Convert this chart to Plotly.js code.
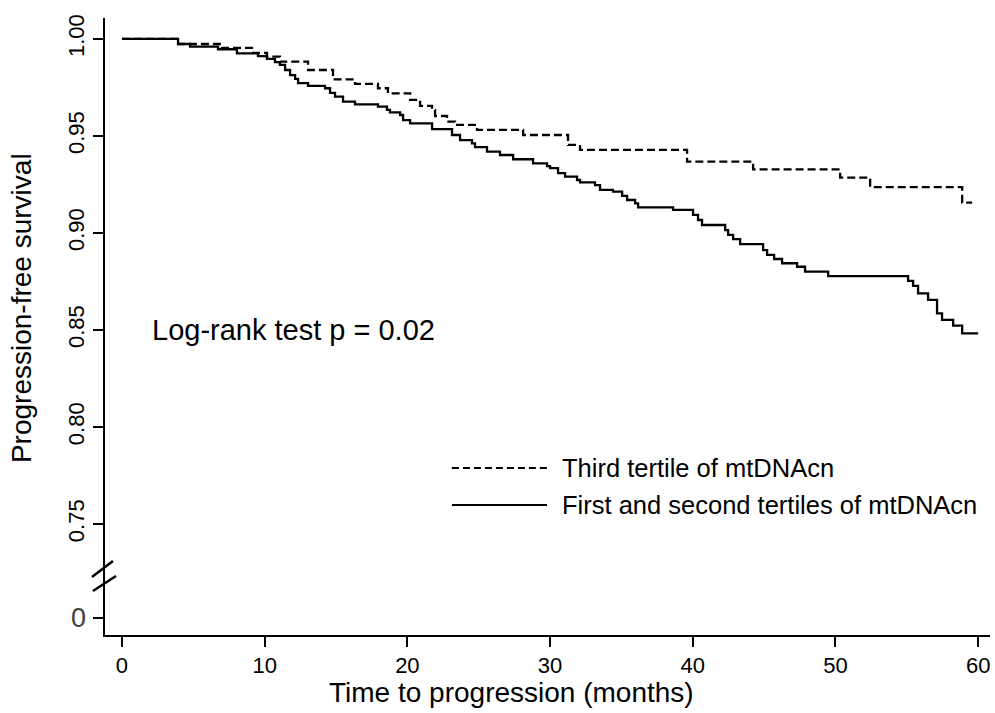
<!DOCTYPE html>
<html>
<head>
<meta charset="utf-8">
<script src="https://cdn.plot.ly/plotly-3.0.1.min.js"></script>
<style>html,body{margin:0;padding:0;background:#fff;}#chart{width:995px;height:713px;}</style>
</head>
<body>
<div id="chart"></div>
<script>
// Kaplan-Meier step data (months, survival)
const thirdTime = [0, 3.93, 7.01, 9.11, 10.16, 11.07, 13.04, 14.79, 16.33, 17.94, 18.64, 20.19, 20.89, 21.73, 21.94, 22.78, 23.34, 24.88, 28.11, 31.26, 32.10, 39.60, 44.23, 50.33, 52.43, 58.88, 59.58];
const thirdSurv = [1.0, 0.9974, 0.9954, 0.9928, 0.9909, 0.9883, 0.9840, 0.9792, 0.9768, 0.9746, 0.9720, 0.9686, 0.9655, 0.9634, 0.9603, 0.9574, 0.9557, 0.9531, 0.9505, 0.9454, 0.9428, 0.9368, 0.9328, 0.9285, 0.9236, 0.9156, 0.9156];

const lowTime = [0, 3.93, 4.77, 6.73, 8.06, 9.53, 10.16, 10.72, 11.07, 11.43, 11.78, 12.13, 12.34, 13.04, 14.23, 14.58, 14.93, 15.49, 16.33, 17.94, 18.57, 18.78, 19.49, 19.70, 20.19, 21.73, 23.13, 23.69, 24.53, 24.74, 25.58, 26.49, 27.41, 28.81, 29.79, 30.00, 30.56, 31.05, 31.89, 32.10, 33.15, 33.50, 34.41, 35.05, 35.40, 35.96, 36.17, 38.62, 40.02, 40.37, 40.65, 42.27, 42.48, 42.83, 43.32, 44.93, 45.21, 45.70, 46.26, 47.31, 47.87, 49.49, 55.09, 55.44, 55.79, 56.49, 57.12, 57.47, 58.25, 58.88, 60.0];
const lowSurv = [1.0, 0.9974, 0.9960, 0.9947, 0.9926, 0.9912, 0.9897, 0.9881, 0.9866, 0.9840, 0.9814, 0.9794, 0.9772, 0.9758, 0.9746, 0.9722, 0.9703, 0.9677, 0.9663, 0.9651, 0.9634, 0.9622, 0.9608, 0.9582, 0.9565, 0.9535, 0.9505, 0.9479, 0.9462, 0.9442, 0.9419, 0.9402, 0.9380, 0.9359, 0.9345, 0.9334, 0.9308, 0.9290, 0.9273, 0.9261, 0.9247, 0.9222, 0.9213, 0.9191, 0.9170, 0.9153, 0.9132, 0.9119, 0.9093, 0.9067, 0.9041, 0.9015, 0.8990, 0.8968, 0.8943, 0.8912, 0.8887, 0.8866, 0.8844, 0.8826, 0.8801, 0.8778, 0.8753, 0.8727, 0.8689, 0.8655, 0.8586, 0.8552, 0.8522, 0.8483, 0.8483];

const seriesNames = ["Third tertile of mtDNAcn", "First and second tertiles of mtDNAcn"];
const xTickVals = [0, 10, 20, 30, 40, 50, 60];
const yTickVals = [0.7015, 0.75, 0.80, 0.85, 0.90, 0.95, 1.00];
const yTickText = ["", "0.75", "0.80", "0.85", "0.90", "0.95", "1.00"];
const breakLabel = "0";
const yBreakPos = 0.7015;
const testLabel = "Log-rank test p = 0.02";
const xTitle = "Time to progression (months)";
const yTitle = "Progression-free survival";

const FONT = "Liberation Sans, Arial, sans-serif";

const traces = [
  {x: thirdTime, y: thirdSurv, type: "scatter", mode: "lines", name: seriesNames[0],
   line: {shape: "hv", color: "#000", width: 2.3, dash: "8px,4px"}, hoverinfo: "skip"},
  {x: lowTime, y: lowSurv, type: "scatter", mode: "lines", name: seriesNames[1],
   line: {shape: "hv", color: "#000", width: 2.3}, hoverinfo: "skip"}
];

const layout = {
  width: 995, height: 713,
  margin: {l: 105, r: 5, t: 18, b: 78, pad: 0},
  paper_bgcolor: "#fff", plot_bgcolor: "#fff",
  showlegend: false,
  font: {family: FONT, color: "#000"},
  xaxis: {
    range: [-1.19, 60.83], tickvals: xTickVals, ticks: "outside", ticklen: 10, tickwidth: 2, tickcolor: "#000",
    showline: true, linecolor: "#000", linewidth: 2, showgrid: false, zeroline: false,
    tickfont: {size: 22, family: FONT, color: "#000"}
  },
  yaxis: {
    range: [0.6928, 1.0108], tickvals: yTickVals, ticktext: yTickText, tickangle: -90,
    ticks: "outside", ticklen: 10, tickwidth: 2, tickcolor: "#000",
    showline: true, linecolor: "#000", linewidth: 2, showgrid: false, zeroline: false,
    tickfont: {size: 22, family: FONT, color: "#000"}
  },
  shapes: [
    {type: "line", xref: "paper", yref: "paper", x0: -0.0147, y0: 0.094, x1: 0.009, y1: 0.12, line: {color: "#000", width: 2.5}},
    {type: "line", xref: "paper", yref: "paper", x0: -0.0136, y0: 0.0713, x1: 0.0124, y1: 0.0956, line: {color: "#000", width: 2.5}},
    {type: "line", xref: "paper", yref: "paper", x0: 0.392, y0: 0.2707, x1: 0.4994, y1: 0.2707, line: {color: "#000", width: 2, dash: "7px,4px"}},
    {type: "line", xref: "paper", yref: "paper", x0: 0.392, y0: 0.2107, x1: 0.4994, y1: 0.2107, line: {color: "#000", width: 2}}
  ],
  annotations: [
    {xref: "paper", yref: "y", x: -0.019, y: yBreakPos, text: breakLabel, showarrow: false, xanchor: "right", yanchor: "middle",
     font: {size: 27, family: FONT, color: "#404040"}},
    {xref: "paper", yref: "paper", x: 0.0508, y: 0.494, text: testLabel, showarrow: false, xanchor: "left", yanchor: "middle",
     font: {size: 29, family: FONT, color: "#000"}},
    {xref: "paper", yref: "paper", x: 0.514, y: 0.2707, text: seriesNames[0], showarrow: false, xanchor: "left", yanchor: "middle",
     font: {size: 25.5, family: FONT, color: "#000"}},
    {xref: "paper", yref: "paper", x: 0.514, y: 0.2107, text: seriesNames[1], showarrow: false, xanchor: "left", yanchor: "middle",
     font: {size: 25.5, family: FONT, color: "#000"}},
    {xref: "paper", yref: "paper", x: 0.459, y: -0.094, text: xTitle, showarrow: false, xanchor: "center", yanchor: "middle",
     font: {size: 28, family: FONT, color: "#000"}},
    {xref: "paper", yref: "paper", x: -0.0937, y: 0.53, text: yTitle, showarrow: false, xanchor: "center", yanchor: "middle", textangle: -90,
     font: {size: 28, family: FONT, color: "#000"}}
  ]
};

Plotly.newPlot("chart", traces, layout, {displayModeBar: false, staticPlot: true});
</script>
</body>
</html>
